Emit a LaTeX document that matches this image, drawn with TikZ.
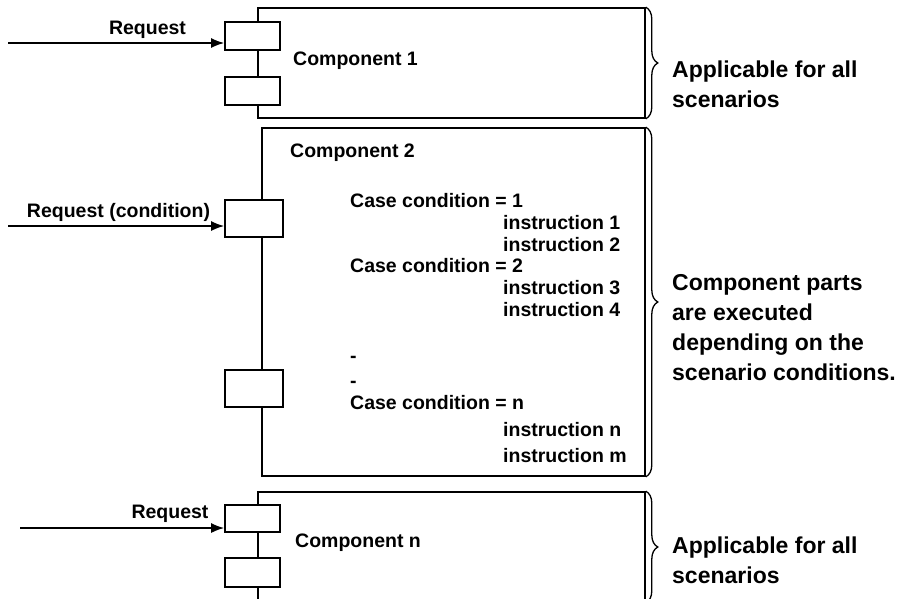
\documentclass[tikz,border=0pt]{standalone}
\usepackage{fontspec}
\setmainfont{Liberation Sans}
\usetikzlibrary{arrows.meta,decorations.pathreplacing}

\tikzset{
  comp/.style={draw,line width=1.6pt,rectangle,inner sep=0pt},
  port/.style={draw,fill=white,line width=1.6pt,rectangle,inner sep=0pt},
  txt/.style={font=\fontsize{19.5}{21.5}\selectfont\bfseries,inner sep=0pt,anchor=base west},
  note/.style={font=\fontsize{23}{30}\selectfont\bfseries,align=left,inner sep=0pt,anchor=north west},
  curly/.style={decorate,decoration={brace,amplitude=12pt},line width=1.3pt},
  req/.style={line width=1.6pt,-{Latex[length=13pt,width=10pt]}}
}

\begin{document}
\begin{tikzpicture}[x=1pt,y=-1pt]
\useasboundingbox (0,0) rectangle (899,598);
\clip (0,0) rectangle (899,598);

% component boxes
\node[comp,minimum width=387pt,minimum height=110pt] (a) at (451.5,63) {};
\node[comp,minimum width=383pt,minimum height=348pt] (c) at (453.5,302) {};
\node[comp,minimum width=387pt,minimum height=110pt] (n) at (451.5,547) {};

% ports
\node[port,minimum width=55pt,minimum height=28pt] (a1) at (252.5,36) {};
\node[port,minimum width=55pt,minimum height=28pt] (a2) at (252.5,91) {};
\node[port,minimum width=58pt,minimum height=37pt] (c1) at (254,218.5) {};
\node[port,minimum width=58pt,minimum height=37pt] (c2) at (254,388.5) {};
\node[port,minimum width=55pt,minimum height=27pt] (n1) at (252.5,518.5) {};
\node[port,minimum width=55pt,minimum height=29pt] (n2) at (252.5,572.5) {};

% requests
\coordinate (ra) at (8,43);
\coordinate (rc) at (8,226);
\coordinate (rn) at (20,528);
\node[txt,anchor=base] (qa) at (147.5,34) {Request};
\node[txt,anchor=base] (qc) at (118.5,217) {Request (condition)};
\node[txt,anchor=base] (qn) at (170,518) {Request};

% texts inside the boxes
\node[txt] (ta) at (293,65) {Component 1};
\node[txt] (tc) at (290,157) {Component 2};
\node[txt] (tn) at (295,547) {Component n};

\node[txt] (k1) at (350,207) {Case condition = 1};
\node[txt] (i1) at (503,229) {instruction 1};
\node[txt] (i2) at (503,251) {instruction 2};
\node[txt] (k2) at (350,272) {Case condition = 2};
\node[txt] (i3) at (503,294) {instruction 3};
\node[txt] (i4) at (503,316) {instruction 4};
\node[txt] (d1) at (350,362) {-};
\node[txt] (d2) at (350,387) {-};
\node[txt] (kn) at (350,409) {Case condition = n};
\node[txt] (in) at (503,436) {instruction n};
\node[txt] (im) at (503,462) {instruction m};

% notes
\node[note] (na) at (672,61) {Applicable for all\\scenarios};
\node[note] (nc) at (672,274) {Component parts\\are executed\\depending on the\\scenario conditions.};
\node[note] (nn) at (672,537) {Applicable for all\\scenarios};

\path
(ra) edge[req] (ra -| a1.west)
(rc) edge[req] (rc -| c1.west)
(rn) edge[req] (rn -| n1.west);

\draw[curly] (a.north east) -- (a.south east);
\draw[curly] (c.north east) -- (c.south east);
\draw[curly] (n.north east) -- (n.south east);
\end{tikzpicture}
\end{document}
